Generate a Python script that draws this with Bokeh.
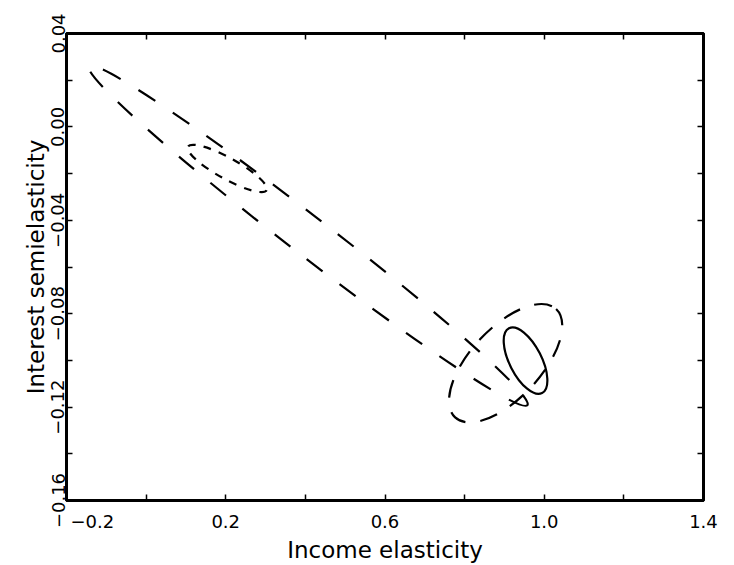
from bokeh.plotting import figure
from bokeh.models import FixedTicker, LinearAxis, Range1d
from bokeh.embed import file_html
from bokeh.resources import INLINE

# ---- data ----
x_ticks = [-0.2, 0.2, 0.6, 1.0, 1.4]
x_minor = [0.0, 0.4, 0.8, 1.2]
x_labels = ["\u00a0" * 9 + "\u22120.2", "0.2", "0.6", "1.0", "1.4"]
y_ticks = [-0.16, -0.12, -0.08, -0.04, 0.0, 0.04]
y_minor = [-0.14, -0.10, -0.06, -0.02, 0.02]
y_labels = ["\u22120.16", "\u22120.12", "\u22120.08", "\u22120.04", "0.00", "0.04"]

# confidence ellipses: centre, extent (x units along major, y units along minor), tilt
ell_x = [0.407, 0.204, 0.903, 0.953]
ell_y = [-0.0466, -0.0178, -0.1012, -0.1001]
ell_w = [1.392, 0.226, 0.372, 0.183]
ell_h = [0.0167, 0.0090, 0.0300, 0.0137]
ell_angle = [-37.7, -29.0, 47.0, -63.0]
ell_dash = ["20 21", "8 8", "18 15", "solid"]

FONT = "DejaVu Sans"

p = figure(width=734, height=565,
           x_range=Range1d(-0.2, 1.4), y_range=Range1d(-0.16, 0.04),
           output_backend="svg", toolbar_location=None,
           min_border_left=66, min_border_right=31,
           min_border_top=33, min_border_bottom=64)
p.xgrid.visible = False
p.ygrid.visible = False
p.outline_line_color = "black"
p.outline_line_width = 3

for i in range(len(ell_x)):
    p.ellipse(x=[ell_x[i]], y=[ell_y[i]], width=[ell_w[i]], height=[ell_h[i]],
              angle=[ell_angle[i]], angle_units="deg",
              fill_color=None, line_color="black", line_width=2.2,
              line_dash=ell_dash[i])

xt = FixedTicker(ticks=x_ticks, minor_ticks=x_minor)
yt = FixedTicker(ticks=y_ticks, minor_ticks=y_minor)

def style(ax):
    ax.axis_line_color = "black"
    ax.axis_line_width = 3
    ax.major_tick_in = 6
    ax.major_tick_out = 0
    ax.minor_tick_in = 6
    ax.minor_tick_out = 0
    ax.major_tick_line_width = 1.5
    ax.minor_tick_line_width = 1.5
    ax.major_label_text_font = FONT
    ax.major_label_text_font_size = "18px"
    ax.major_label_text_color = "black"
    ax.axis_label_text_font = FONT
    ax.axis_label_text_font_size = "23px"
    ax.axis_label_text_font_style = "normal"
    ax.axis_label_text_color = "black"

xa = p.xaxis[0]
xa.ticker = xt
style(xa)
xa.major_label_overrides = {t: l for t, l in zip(x_ticks, x_labels)}
xa.axis_label = "Income elasticity"
xa.major_label_standoff = 10
xa.axis_label_standoff = 2

ya = p.yaxis[0]
ya.ticker = yt
style(ya)
ya.major_label_overrides = {t: l for t, l in zip(y_ticks, y_labels)}
ya.major_label_orientation = "vertical"
ya.axis_label = "Interest semielasticity"
ya.major_label_standoff = 2
ya.axis_label_standoff = 0

top = LinearAxis(ticker=FixedTicker(ticks=x_ticks, minor_ticks=x_minor))
style(top)
top.major_label_overrides = {t: "" for t in x_ticks}
p.add_layout(top, "above")

right = LinearAxis(ticker=FixedTicker(ticks=y_ticks, minor_ticks=y_minor))
style(right)
right.major_label_overrides = {t: "" for t in y_ticks}
p.add_layout(right, "right")

open("out.html", "w").write(file_html(p, INLINE))
